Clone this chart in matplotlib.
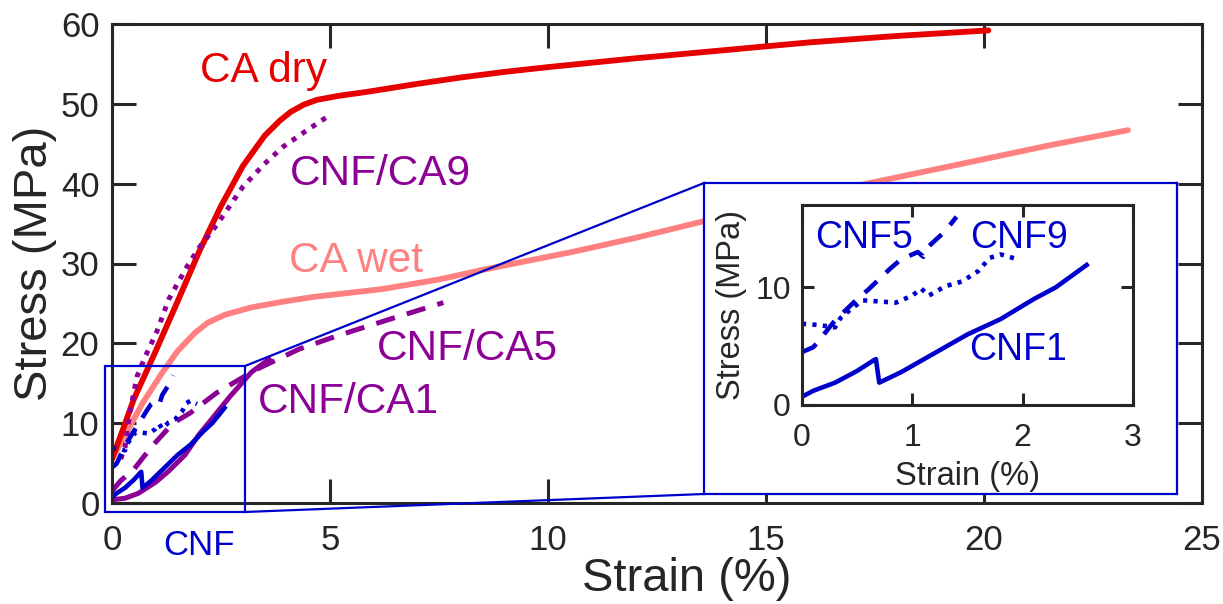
import matplotlib
matplotlib.use("Agg")
import matplotlib.pyplot as plt
from matplotlib.patches import Rectangle
from matplotlib.lines import Line2D

plt.rcParams['font.family'] = ['Liberation Sans', 'DejaVu Sans']
plt.rcParams['lines.scale_dashes'] = False

# ---------------- data ----------------
ca_dry_x = [0, 0.25, 0.5, 1.0, 1.5, 2.0, 2.5, 3.0, 3.5, 3.85, 4.1, 4.4, 4.7, 5.2, 5.85,
            7, 8, 9, 10, 12, 14, 15, 16, 18, 20.1]
ca_dry_y = [5.5, 9.2, 13.0, 19.0, 25.2, 31.5, 37.2, 42.2, 46.0, 47.9, 49.0, 49.9, 50.5, 51.0, 51.5,
            52.5, 53.3, 54.0, 54.6, 55.7, 56.7, 57.2, 57.7, 58.5, 59.2]

ca_wet_x = [0, 0.3, 0.7, 1.15, 1.5, 1.9, 2.2, 2.6, 3.2, 3.9, 4.6, 6.2, 7.5, 8.5, 9.5,
            10.6, 12.0, 13.5, 15.5, 17.4, 19.5, 21.5, 23.3]
ca_wet_y = [5.5, 8.5, 12.5, 16.3, 19.0, 21.3, 22.6, 23.6, 24.5, 25.2, 25.8, 26.8, 28.0, 29.2, 30.3,
            31.5, 33.2, 35.2, 37.7, 40.1, 42.5, 44.8, 46.7]

cnf_ca9_x = [0, 0.2, 0.3, 0.4, 0.57, 0.76, 1.03, 1.3, 1.72, 2.0, 2.4, 3.0, 3.5, 3.92, 4.5, 5.0]
cnf_ca9_y = [4.5, 5.5, 7.0, 11.0, 15.8, 18.3, 21.5, 25.5, 29.6, 32.0, 34.8, 39.6, 42.5, 44.6, 46.8, 48.6]

cnf_ca5_x = [0, 0.2, 0.5, 0.9, 1.4, 1.8, 2.4, 3.3, 4.3, 5.2, 6.3, 7.6]
cnf_ca5_y = [1.5, 2.8, 4.2, 7.0, 10.0, 11.3, 13.8, 16.7, 19.3, 21.0, 22.9, 25.1]

cnf_ca1_x = [0, 0.3, 0.6, 1.0, 1.3, 1.67, 2.0, 2.3, 2.7, 3.2, 3.6]
cnf_ca1_y = [0.4, 0.6, 1.2, 2.6, 4.0, 6.0, 8.6, 10.6, 13.3, 16.4, 18.0]

cnf1_x = [0, 0.1, 0.3, 0.5, 0.65, 0.67, 0.7, 0.9, 1.2, 1.5, 1.8, 2.1, 2.3, 2.58]
cnf1_y = [0.7, 1.2, 1.9, 2.9, 3.8, 3.9, 1.9, 2.8, 4.4, 6.0, 7.3, 9.0, 10.0, 11.9]

cnf5_x = [0, 0.1, 0.13, 0.3, 0.5, 0.6, 0.8, 0.9, 1.05, 1.1, 1.15, 1.3, 1.4]
cnf5_y = [4.5, 4.9, 5.2, 7.2, 9.0, 9.8, 11.6, 12.4, 13.0, 12.6, 13.5, 14.8, 16.0]

cnf9_x = [0, 0.15, 0.3, 0.35, 0.45, 0.55, 0.7, 0.85, 1.0, 1.08, 1.15, 1.3, 1.45, 1.6, 1.7, 1.8, 1.95]
cnf9_y = [6.9, 6.8, 6.6, 7.4, 8.2, 8.9, 8.8, 8.7, 9.3, 9.9, 9.3, 10.1, 10.5, 11.4, 12.5, 12.8, 12.4]

main_xticks = [0, 5, 10, 15, 20, 25]
main_yticks = [0, 10, 20, 30, 40, 50, 60]
inset_xticks = [0, 1, 2, 3]
inset_yticks = [0, 10]

# ---------------- styles ----------------
RED = '#E60000'
SALMON = '#FF8080'
PURPLE = '#8C0096'
BLUE = '#0000CC'
DARK = '#262626'
DOT = (0, (3.6, 5.0))
DASH = (0, (14.0, 9.0))
BDOT = (0, (3.0, 4.5))
BDASH = (0, (12.0, 9.0))

W, H = 1223, 604
def fx(px):
    return px / W
def fy(py):
    return 1 - py / H

fig = plt.figure(figsize=(W / 100, H / 100), dpi=100)

# ---------------- main axes ----------------
ax = fig.add_axes([fx(112), fy(503), fx(1202) - fx(112), fy(24) - fy(503)])
ax.plot(ca_wet_x, ca_wet_y, color=SALMON, lw=4.2, solid_capstyle='round')
ax.plot(ca_dry_x, ca_dry_y, color=RED, lw=4.2, solid_capstyle='round')
ax.plot(cnf_ca1_x, cnf_ca1_y, color=PURPLE, lw=3.6)
ax.plot(cnf_ca5_x, cnf_ca5_y, color=PURPLE, lw=3.6, ls=DASH)
ax.plot(cnf_ca9_x, cnf_ca9_y, color=PURPLE, lw=3.6, ls=DOT)
ax.plot(cnf1_x, cnf1_y, color=BLUE, lw=3.3)
ax.plot(cnf5_x, cnf5_y, color=BLUE, lw=3.3, ls=BDASH)
ax.plot(cnf9_x, cnf9_y, color=BLUE, lw=3.3, ls=BDOT)

ax.set_xlim(0, 25)
ax.set_ylim(0, 60)
ax.set_xticks(main_xticks)
ax.set_yticks(main_yticks)
ax.tick_params(direction='in', length=17.5, width=2.2, labelsize=25, top=True, right=True,
               color=DARK, labelcolor=DARK)
ax.tick_params(axis='x', pad=15)
ax.tick_params(axis='y', pad=9)
for s in ax.spines.values():
    s.set_linewidth(2.2)
    s.set_color(DARK)
ax.set_xlabel('Strain (%)', fontsize=34, color=DARK, labelpad=0)
ax.xaxis.label.set_x(0.5275)
ax.set_ylabel('Stress (MPa)', fontsize=34, color=DARK, labelpad=3)

# zoom rectangle in main axes
rect = Rectangle((fx(105), fy(512)), fx(245) - fx(105), fy(366) - fy(512),
                 transform=fig.transFigure, fill=False, edgecolor=BLUE, lw=1.6,
                 clip_on=False, zorder=5)
ax.add_patch(rect)

# connector lines
fig.add_artist(Line2D([fx(245), fx(704)], [fy(366), fy(183)], transform=fig.transFigure,
                      color=BLUE, lw=1.6))
fig.add_artist(Line2D([fx(245), fx(704)], [fy(512), fy(494)], transform=fig.transFigure,
                      color=BLUE, lw=1.6))

# white frame for the inset
fr = fig.add_axes([fx(704), fy(494), fx(1177) - fx(704), fy(183) - fy(494)])
fr.set_facecolor('white')
fr.set_xticks([])
fr.set_yticks([])
for s in fr.spines.values():
    s.set_color(BLUE)
    s.set_linewidth(1.6)

# ---------------- inset axes ----------------
ia = fig.add_axes([fx(802), fy(405), fx(1133) - fx(802), fy(205) - fy(405)])
ia.plot(cnf1_x, cnf1_y, color=BLUE, lw=3.3)
ia.plot(cnf5_x, cnf5_y, color=BLUE, lw=3.3, ls=BDASH)
ia.plot(cnf9_x, cnf9_y, color=BLUE, lw=3.3, ls=BDOT)
ia.set_xlim(0, 3)
ia.set_ylim(0, 17)
ia.set_xticks(inset_xticks)
ia.set_yticks(inset_yticks)
ia.tick_params(direction='in', length=8.5, width=2.2, labelsize=23, top=True, right=True,
               color=DARK, labelcolor=DARK)
ia.tick_params(axis='x', pad=13)
ia.tick_params(axis='y', pad=8)
for s in ia.spines.values():
    s.set_linewidth(2.2)
    s.set_color(DARK)
ia.set_xlabel('Strain (%)', fontsize=23.5, color=DARK, labelpad=6)
ia.set_ylabel('Stress (MPa)', fontsize=23.5, color=DARK, labelpad=6)

# ---------------- annotations ----------------
def label(px, py, s, color, size):
    fig.text(fx(px), fy(py), s, color=color, fontsize=size, ha='left', va='baseline')

label(200, 82, 'CA dry', RED, 30.5)
label(290, 185, 'CNF/CA9', PURPLE, 30.5)
label(289, 272, 'CA wet', SALMON, 30.5)
label(377, 360, 'CNF/CA5', PURPLE, 30.5)
label(258, 413, 'CNF/CA1', PURPLE, 30.5)
label(163, 555, 'CNF', BLUE, 25)
label(815, 248, 'CNF5', BLUE, 27)
label(970, 248, 'CNF9', BLUE, 27)
label(969, 360, 'CNF1', BLUE, 27)

fig.savefig('out.png', dpi=100)
